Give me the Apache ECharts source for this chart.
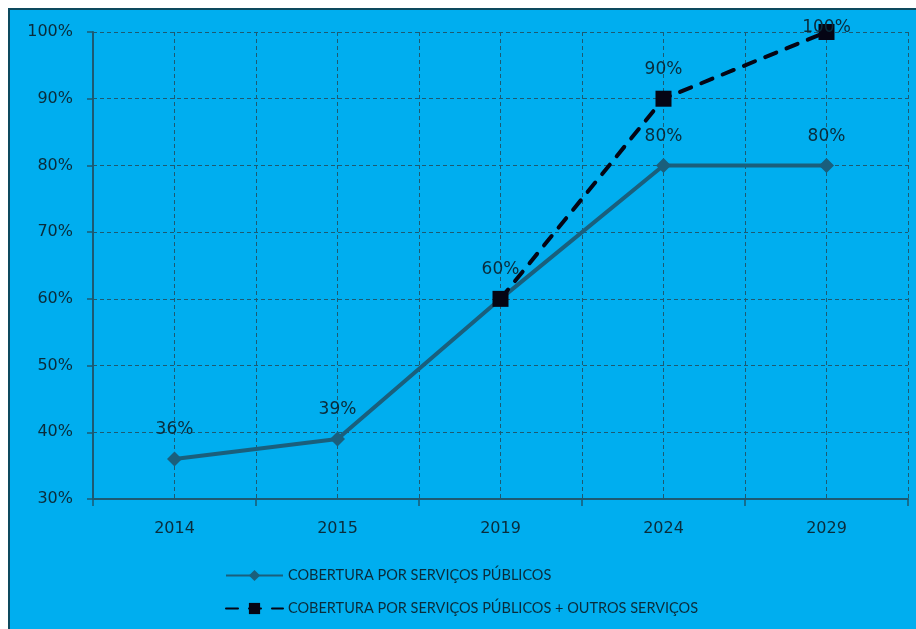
<!DOCTYPE html>
<html>
<head>
<meta charset="utf-8">
<script src="https://cdn.jsdelivr.net/npm/echarts@6/dist/echarts.min.js"></script>
<style>
  html, body { margin: 0; padding: 0; background: #fff; }
  #chart {
    position: absolute; left: 8px; top: 8px;
    width: 906px; height: 619px;
    border-left: 2px solid #0d4a5e; border-top: 2px solid #0d4a5e;
  }
</style>
</head>
<body>
<div id="chart"></div>
<script>
const years = ['2014', '2015', '2019', '2024', '2029']
const publicos = [36, 39, 60, 80, 80]
const publicosOutros = [null, null, 60, 90, 100]
const seriesNames = ['COBERTURA POR SERVIÇOS PÚBLICOS', 'COBERTURA POR SERVIÇOS PÚBLICOS + OUTROS SERVIÇOS']

const textColor = '#0a2c3b'
const gridColor = '#1d5a72'
const font = 'DejaVu Sans'

const chart = echarts.init(document.getElementById('chart'))

// labels: hide the overlapping 60% of the second line, 100% sits on its marker like the original
const outrosData = publicosOutros.map((v, i) => {
  if (v === null) return v
  if (i === 2) return { value: v, label: { show: false } }
  if (v === 100) return { value: v, label: { position: 'inside', offset: [0, -4] } }
  return v
})

chart.setOption({
  backgroundColor: '#00aeef',
  textStyle: { fontFamily: font },
  grid: { left: 83, right: 8, top: 22, bottom: 130 },
  legend: {
    orient: 'vertical',
    left: 210,
    top: 553,
    itemWidth: 57,
    itemHeight: 14,
    itemGap: 18,
    textStyle: { color: textColor, fontSize: 14.5, fontFamily: 'Lato' },
    data: seriesNames
  },
  xAxis: [
    {
      type: 'category',
      data: years,
      boundaryGap: true,
      axisLine: { lineStyle: { color: gridColor, width: 2 } },
      axisTick: { show: true, length: 7, lineStyle: { color: gridColor, width: 1.5 } },
      axisLabel: { color: textColor, fontSize: 16, margin: 22 },
      splitLine: { show: false }
    },
    {
      // only for the dashed vertical grid (boundaries + centres)
      type: 'value',
      min: 0, max: 10, interval: 1,
      position: 'bottom',
      axisLine: { show: false },
      axisTick: { show: false },
      axisLabel: { show: false },
      splitLine: { show: true, lineStyle: { color: gridColor, type: [4, 3], width: 1 } }
    }
  ],
  yAxis: {
    type: 'value',
    min: 30, max: 100, interval: 10,
    axisLine: { show: true, lineStyle: { color: gridColor, width: 2 } },
    axisTick: { show: true, length: 6, lineStyle: { color: gridColor, width: 1.5 } },
    axisLabel: { color: textColor, fontSize: 16, margin: 20, formatter: '{value}%' },
    splitLine: { show: true, lineStyle: { color: gridColor, type: [4, 3], width: 1 } }
  },
  series: [
    {
      name: seriesNames[0],
      type: 'line',
      data: publicos,
      symbol: 'diamond',
      symbolSize: 15,
      lineStyle: { color: '#1a5f7c', width: 4 },
      itemStyle: { color: '#1a5f7c' },
      label: {
        show: true, position: 'top', distance: 13,
        color: textColor, fontSize: 17, fontFamily: font,
        formatter: p => p.value + '%'
      },
      z: 2
    },
    {
      name: seriesNames[1],
      type: 'line',
      data: outrosData,
      symbol: 'rect',
      symbolSize: 16,
      lineStyle: { color: '#050514', width: 4, type: [12, 11], cap: 'round' },
      itemStyle: { color: '#050514' },
      label: {
        show: true, position: 'top', distance: 13,
        color: textColor, fontSize: 17, fontFamily: font,
        formatter: p => p.value + '%'
      },
      z: 3
    }
  ]
})
</script>
</body>
</html>
